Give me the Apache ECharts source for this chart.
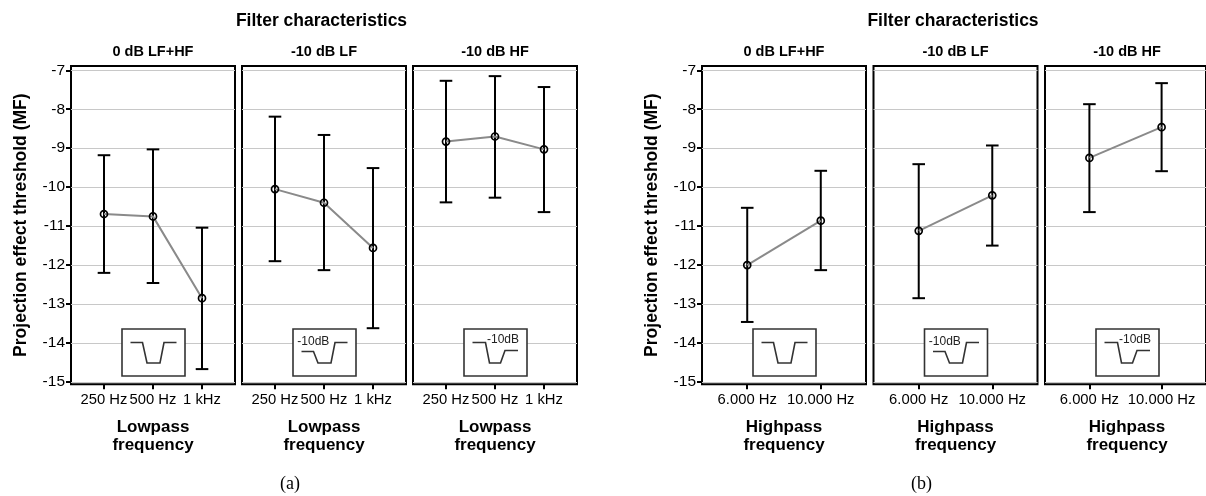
<!DOCTYPE html>
<html>
<head>
<meta charset="utf-8">
<script src="https://cdn.jsdelivr.net/npm/echarts@6/dist/echarts.min.js"></script>
<style>html,body{margin:0;padding:0;background:#fff}#c{width:1206px;height:496px}</style>
</head>
<body>
<div id="c"></div>
<script>
// ---------- data ----------
const figureTitle = 'Filter characteristics';
const panelTitles = ['0 dB LF+HF', '-10 dB LF', '-10 dB HF'];
const yAxisName = 'Projection effect threshold (MF)';
const lowpassName = 'Lowpass\nfrequency';
const highpassName = 'Highpass\nfrequency';
const figLabels = ['(a)', '(b)'];
const yTicks = [-7, -8, -9, -10, -11, -12, -13, -14, -15];
const lowCats = ['250 Hz', '500 Hz', '1 kHz'];
const highCats = ['6.000 Hz', '10.000 Hz'];

// (a) lowpass
const lpMean0 = [-10.69, -10.75, -12.85];
const lpLow0  = [-12.20, -12.46, -14.67];
const lpHigh0 = [-9.18, -9.03, -11.04];
const lpMean1 = [-10.05, -10.40, -11.56];
const lpLow1  = [-11.90, -12.13, -13.62];
const lpHigh1 = [-8.19, -8.66, -9.51];
const lpMean2 = [-8.83, -8.70, -9.03];
const lpLow2  = [-10.39, -10.27, -10.64];
const lpHigh2 = [-7.27, -7.15, -7.43];
// (b) highpass
const hpMean0 = [-12.00, -10.86];
const hpLow0  = [-13.46, -12.13];
const hpHigh0 = [-10.53, -9.58];
const hpMean1 = [-11.12, -10.21];
const hpLow1  = [-12.85, -11.50];
const hpHigh1 = [-9.41, -8.93];
const hpMean2 = [-9.25, -8.46];
const hpLow2  = [-10.64, -9.59];
const hpHigh2 = [-7.87, -7.33];

// ---------- layout ----------
const FONT = "'Liberation Sans', Arial, sans-serif";
const gridTop = 66, gridH = 318.3, gridW = 164;
const figs = [
  { lefts: [71, 242, 413], cats: lowCats, xMin: -0.673, xMax: 2.673, xName: lowpassName,
    means: [lpMean0, lpMean1, lpMean2], lows: [lpLow0, lpLow1, lpLow2], highs: [lpHigh0, lpHigh1, lpHigh2] },
  { lefts: [702, 873.5, 1045], cats: highCats, xMin: -0.615, xMax: 1.615, xName: highpassName,
    means: [hpMean0, hpMean1, hpMean2], lows: [hpLow0, hpLow1, hpLow2], highs: [hpHigh0, hpHigh1, hpHigh2] }
];
// icon notch shapes (local coords inside 63x47 box)
const iconShapes = [
  { pts: [[8.5,13.5],[20.5,13.5],[25,34],[38,34],[42,13.5],[54.5,13.5]], label: null },
  { pts: [[8.5,22.5],[20.5,22.5],[25,34],[38,34],[42,13.5],[54.5,13.5]], label: { x: 4.3, y: 12.5 } },
  { pts: [[8.5,13.5],[21.5,13.5],[25.5,34],[36.5,34],[41,21.5],[54,21.5]], label: { x: 23, y: 11 } }
];

const grids = [], xAxes = [], yAxes = [], series = [], graphics = [];
function txt(x, y, text, size, weight, opts) {
  opts = opts || {};
  const el = {
    type: 'text', x: x, y: y, z: 100, rotation: opts.rotation || 0,
    style: {
      x: 0, y: 0, text: text, fill: opts.fill || '#000',
      font: (weight || 'normal') + ' ' + size + 'px ' + (opts.family || FONT),
      align: 'center', verticalAlign: 'middle',
      textAlign: 'center', textVerticalAlign: 'middle',
      lineHeight: opts.lineHeight
    }
  };
  if (opts.align) { el.style.align = opts.align; el.style.textAlign = opts.align; }
  return el;
}

let gi = 0;
figs.forEach(function (f, fi) {
  for (let p = 0; p < 3; p++) {
    const left = f.lefts[p];
    const first = p === 0;
    grids.push({ left: left, top: gridTop, width: gridW, height: gridH, show: true,
      borderColor: '#000', borderWidth: 2, backgroundColor: 'transparent' });
    const idx = f.cats.map(function (_, i) { return i; });
    xAxes.push({
      gridIndex: gi, type: 'value', min: f.xMin, max: f.xMax, position: 'bottom',
      axisLine: { show: false, onZero: false },
      axisTick: { show: true, customValues: idx, length: 5, lineStyle: { color: '#000', width: 2 } },
      axisLabel: { show: true, customValues: idx, margin: 8, fontSize: 14.8, fontFamily: FONT, color: '#000',
        formatter: function (v) { return f.cats[Math.round(v)]; } },
      splitLine: { show: false }
    });
    yAxes.push({
      gridIndex: gi, type: 'value', min: -15.06, max: -6.89, position: 'left',
      axisLine: { show: false, onZero: false },
      axisTick: { show: first, customValues: yTicks, length: 5, lineStyle: { color: '#000', width: 2 } },
      axisLabel: { show: first, customValues: yTicks, margin: 6, fontSize: 15.5, fontFamily: FONT, color: '#000',
        formatter: function (v) { return String(v); } },
      splitLine: { show: true, lineStyle: { color: '#c8c8c8', width: 1 } }
    });
    const m = f.means[p], lo = f.lows[p], hi = f.highs[p];
    series.push({
      type: 'custom', xAxisIndex: gi, yAxisIndex: gi, z: 3, silent: true,
      data: m.map(function (_, i) { return [i, lo[i], hi[i]]; }),
      encode: { x: 0, y: [1, 2] },
      renderItem: function (params, api) {
        const x = api.value(0);
        const a = api.coord([x, api.value(2)]);
        const b = api.coord([x, api.value(1)]);
        const hw = 6.3;
        const st = { stroke: '#000', lineWidth: 2 };
        return { type: 'group', children: [
          { type: 'line', shape: { x1: a[0], y1: a[1], x2: b[0], y2: b[1] }, style: st },
          { type: 'line', shape: { x1: a[0] - hw, y1: a[1], x2: a[0] + hw, y2: a[1] }, style: st },
          { type: 'line', shape: { x1: b[0] - hw, y1: b[1], x2: b[0] + hw, y2: b[1] }, style: st }
        ] };
      }
    });
    series.push({
      type: 'line', xAxisIndex: gi, yAxisIndex: gi, z: 4, silent: true,
      data: m.map(function (v, i) { return [i, v]; }),
      symbol: 'circle', symbolSize: 7, showSymbol: true,
      lineStyle: { color: '#8a8a8a', width: 2 },
      itemStyle: { color: 'rgba(255,255,255,0)', borderColor: '#000', borderWidth: 1.7 },
      emphasis: { disabled: true }, animation: false
    });
    const cx = left + gridW / 2 + 0.5;
    graphics.push(txt(cx - 0.5, 51.7, panelTitles[p], 14.5, 'bold'));
    graphics.push(txt(cx - 0.5, 436.3, f.xName, 17, 'bold', { lineHeight: 17.7 }));
    const bx = cx - 31.5, by = 329;
    const sh = iconShapes[p];
    graphics.push({ type: 'rect', z: 100, shape: { x: bx, y: by, width: 63, height: 47 },
      style: { fill: '#fff', stroke: '#333', lineWidth: 1.6 } });
    graphics.push({ type: 'polyline', z: 101,
      shape: { points: sh.pts.map(function (q) { return [bx + q[0], by + q[1]]; }) },
      style: { fill: null, stroke: '#333', lineWidth: 1.6 } });
    if (sh.label) {
      graphics.push(txt(bx + sh.label.x, by + sh.label.y, '-10dB', 12, 'normal', { align: 'left', fill: '#222' }));
    }
    gi++;
  }
  const c2 = f.lefts[1] + gridW / 2;
  graphics.push(txt(c2 - 2.5, 21, figureTitle, 17.5, 'bold'));
  graphics.push(txt(f.lefts[0] - 50, gridTop + gridH / 2, yAxisName, 17.5, 'bold', { rotation: Math.PI / 2 }));
  graphics.push(txt(c2 - 34, 484, figLabels[fi], 18, 'normal', { family: "'Liberation Serif', 'Times New Roman', serif" }));
});

const chart = echarts.init(document.getElementById('c'), null, { renderer: 'canvas' });
chart.setOption({
  backgroundColor: '#fff',
  animation: false,
  grid: grids, xAxis: xAxes, yAxis: yAxes, series: series,
  graphic: { elements: graphics }
});
</script>
</body>
</html>
